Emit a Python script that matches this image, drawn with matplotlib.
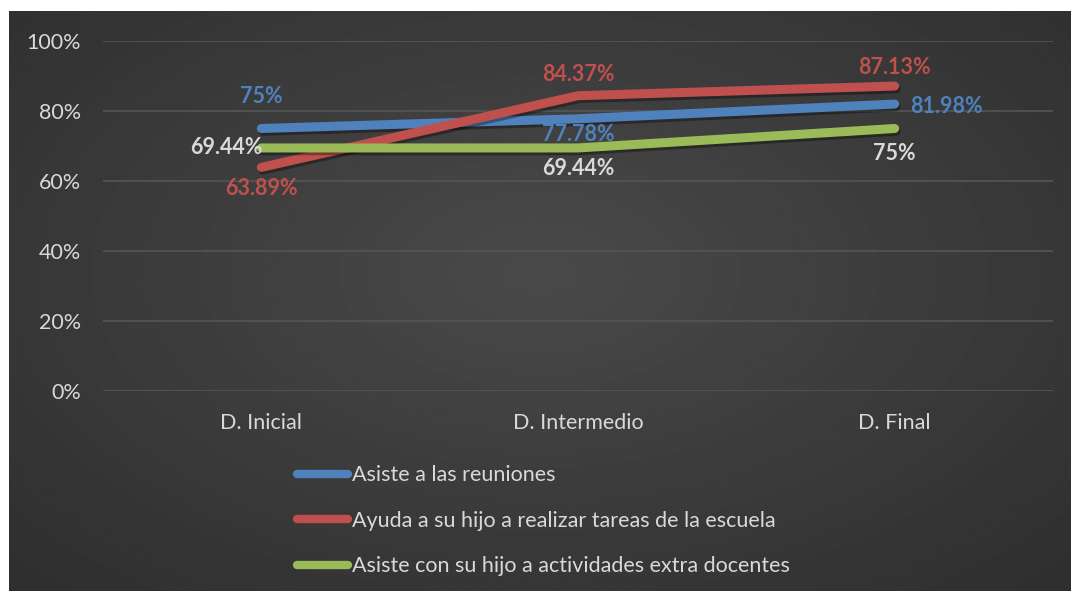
import numpy as np
import matplotlib
matplotlib.use("Agg")
import matplotlib.pyplot as plt
import matplotlib.patheffects as pe

categories = ["D. Inicial", "D. Intermedio", "D. Final"]
series_names = ["Asiste a las reuniones",
                "Ayuda a su hijo a realizar tareas de la escuela",
                "Asiste con su hijo a actividades extra docentes"]
reuniones = [75.0, 77.78, 81.98]
tareas = [63.89, 84.37, 87.13]
actividades = [69.44, 69.44, 75.0]
label_text = [["75%", "77.78%", "81.98%"],
              ["63.89%", "84.37%", "87.13%"],
              ["69.44%", "69.44%", "75%"]]
yticks = [0, 20, 40, 60, 80, 100]
ytick_labels = ["0%", "20%", "40%", "60%", "80%", "100%"]

colors = ["#4F81BD", "#C0504D", "#9BBB59"]
label_colors = ["#4F81BD", "#C0504D", "#D9D9D9"]
# label placement per point: (ha, dx, dy) in points
placements = [
    [("c", 0, 23), ("c", 0, -11), ("l", 11, -2)],
    [("c", 0, -15), ("c", 0, 15), ("c", 0, 13)],
    [("r", 1, 0), ("c", 0, -15), ("c", 0, -18)],
]

W, H = 1072, 591
FS = 15.5
fig = plt.figure(figsize=(W / 100, H / 100), dpi=100)
fig.patch.set_facecolor("white")

# background panel with radial gradient
bg = fig.add_axes([9 / W, 0, (1071 - 9) / W, (591 - 11) / H])
yy, xx = np.mgrid[0:1:300j, 0:1:500j]
r = np.sqrt(((xx - 0.5) / 0.8) ** 2 + ((yy - 0.45) / 0.85) ** 2)
val = 0.29 - 0.12 * np.clip(r, 0, 1)
bg.imshow(val, cmap="gray", vmin=0, vmax=1, aspect="auto",
          extent=[0, 1, 0, 1], interpolation="bilinear")
bg.set_axis_off()

font = "Lato"
ax = fig.add_axes([103 / W, 1 - 391 / H, (1053 - 103) / W, (391 - 41) / H])
ax.patch.set_alpha(0)
x = np.arange(len(categories))
ax.set_xlim(-0.5, len(categories) - 0.5)
ax.set_ylim(0, 100)
ax.set_yticks(yticks)
ax.set_yticklabels(ytick_labels, fontsize=FS, color="#D9D9D9", family=font)
ax.set_xticks(x)
ax.set_xticklabels(categories, fontsize=FS, color="#D9D9D9", family=font)
ax.tick_params(axis="y", length=0, pad=16)
ax.tick_params(axis="x", length=0, pad=16)
for s in ax.spines.values():
    s.set_visible(False)
ax.grid(axis="y", color="#555555", linewidth=1.2)
ax.set_axisbelow(True)

data = [reuniones, tareas, actividades]
lines = []
ha_map = {"c": "center", "l": "left", "r": "right"}
for i, vals in enumerate(data):
    ln, = ax.plot(x, vals, color=colors[i], linewidth=6.5, solid_capstyle="round",
                  label=series_names[i], zorder=3,
                  path_effects=[pe.SimpleLineShadow(offset=(1, -2), shadow_color="black", alpha=0.35),
                                pe.Normal()])
    lines.append(ln)
    for j, v in enumerate(vals):
        ha, dx, dy = placements[i][j]
        ax.annotate(label_text[i][j], (x[j], v), xytext=(dx, dy), textcoords="offset points",
                    ha=ha_map[ha], va="center", fontsize=FS, fontweight="bold",
                    color=label_colors[i], family=font, zorder=5)

leg = fig.legend(handles=lines, loc="upper left", bbox_to_anchor=(278 / W, 1 - 446 / H),
                 frameon=False, ncol=1, handlelength=2.35, handletextpad=0.2,
                 labelspacing=1.18, prop={"family": font, "size": FS})
for t in leg.get_texts():
    t.set_color("#D9D9D9")
for h in leg.legend_handles:
    h.set_path_effects([])
    h.set_linewidth(6)

fig.savefig("out.png", dpi=100, facecolor=fig.get_facecolor())
